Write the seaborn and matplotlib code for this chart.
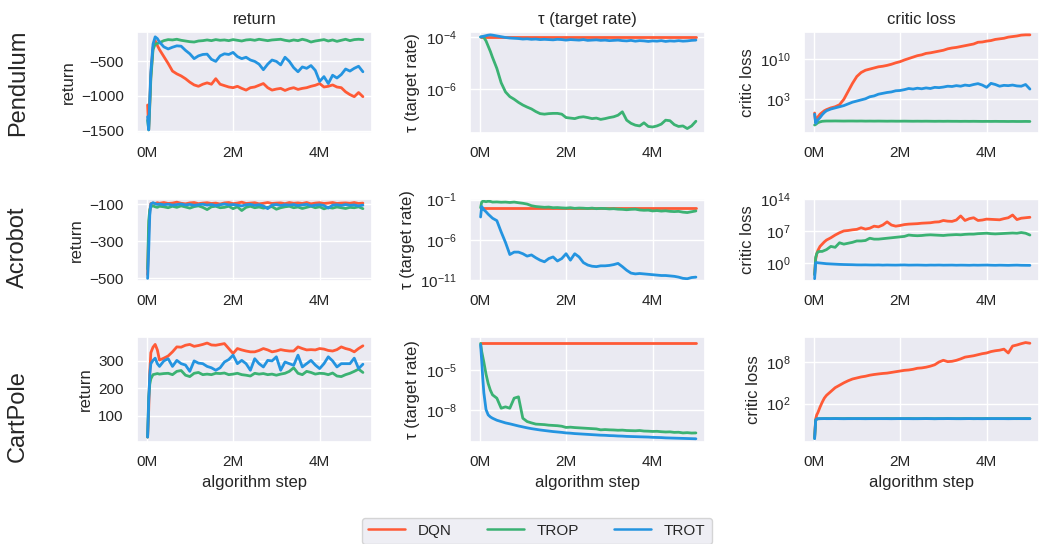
import matplotlib.pyplot as plt
import matplotlib.ticker as mticker
import numpy as np
import pandas as pd
import seaborn as sns

METHODS = ["DQN", "TROP", "TROT"]
COLORS = ["#ff5a36", "#3bb273", "#2494e0"]
ENVS = ["Pendulum", "Acrobot", "CartPole"]
METRICS = ["return", "τ (target rate)", "critic loss"]

# algorithm step in millions
STEP_M = [0.025, 0.05, 0.075, 0.1, 0.15, 0.2, 0.25, 0.3,
          0.4, 0.5, 0.6, 0.7, 0.8, 0.9, 1.0, 1.1, 1.2, 1.3,
          1.4, 1.5, 1.6, 1.7, 1.8, 1.9, 2.0, 2.1, 2.2, 2.3,
          2.4, 2.5, 2.6, 2.7, 2.8, 2.9, 3.0, 3.1, 3.2, 3.3,
          3.4, 3.5, 3.6, 3.7, 3.8, 3.9, 4.0, 4.1, 4.2, 4.3,
          4.4, 4.5, 4.6, 4.7, 4.8, 4.9, 5.0]
FLAT_STEP_M = [0.025, 5.0]

# ---- Pendulum ----
PEND_RET_DQN = [-1130, -1480, -1100, -700, -300, -200, -270, -330,
                -430, -530, -640, -680, -710, -750, -800, -840, -860, -830,
                -810, -830, -750, -830, -850, -870, -880, -860, -890, -915,
                -880, -870, -845, -820, -880, -915, -900, -890, -920, -895,
                -880, -905, -890, -880, -860, -845, -820, -870, -860, -840,
                -870, -880, -940, -980, -1010, -950, -1010]
PEND_RET_TROP = [-1350, -1490, -1150, -750, -330, -250, -240, -230,
                 -200, -185, -190, -180, -195, -205, -215, -220, -205, -200,
                 -190, -200, -185, -195, -190, -200, -185, -195, -205, -190,
                 -185, -195, -180, -190, -200, -190, -185, -180, -195, -205,
                 -190, -200, -180, -195, -220, -205, -195, -185, -205, -190,
                 -210, -195, -180, -200, -185, -180, -185]
PEND_RET_TROT = [-1300, -1490, -1050, -650, -250, -145, -170, -220,
                 -290, -320, -295, -275, -280, -340, -390, -460, -420, -400,
                 -395, -470, -500, -420, -390, -400, -370, -430, -460, -440,
                 -480, -500, -540, -620, -540, -480, -500, -550, -440, -500,
                 -590, -650, -580, -600, -560, -630, -790, -720, -820, -700,
                 -740, -690, -610, -640, -600, -570, -650]

PEND_TAU_DQN_LOG10 = [-4.0, -4.0]
PEND_TAU_TROP_LOG10 = [-4.0, -4.0, -4.0, -4.02, -4.15, -4.35, -4.55, -4.78,
                       -5.2, -5.75, -6.1, -6.28, -6.38, -6.5, -6.6, -6.68, -6.75, -6.85,
                       -6.93, -6.95, -6.93, -6.92, -6.92, -6.95, -7.08, -7.1, -7.12, -7.07,
                       -7.05, -7.08, -7.12, -7.1, -7.15, -7.12, -7.08, -7.05, -6.99, -6.86,
                       -7.18, -7.3, -7.37, -7.4, -7.28, -7.42, -7.44, -7.4, -7.33, -7.18,
                       -7.2, -7.35, -7.42, -7.4, -7.5, -7.4, -7.22]
PEND_TAU_TROT_LOG10 = [-4.0, -3.99, -3.98, -3.97, -3.95, -3.93, -3.92, -3.93,
                       -3.96, -3.99, -4.02, -4.04, -4.05, -4.06, -4.08, -4.07, -4.09, -4.08,
                       -4.1, -4.09, -4.1, -4.11, -4.09, -4.1, -4.12, -4.1, -4.11, -4.12,
                       -4.1, -4.13, -4.12, -4.11, -4.13, -4.12, -4.14, -4.13, -4.12, -4.14,
                       -4.15, -4.13, -4.16, -4.14, -4.15, -4.17, -4.15, -4.16, -4.14, -4.17,
                       -4.15, -4.16, -4.14, -4.16, -4.15, -4.13, -4.12]

PEND_LOSS_DQN_LOG10 = [0.5, -1.1, -0.6, -0.2, 0.3, 0.6, 0.9, 1.1,
                       1.4, 1.6, 1.95, 2.9, 4.3, 5.7, 6.9, 7.6, 8.0, 8.2,
                       8.4, 8.6, 8.7, 8.85, 9.05, 9.3, 9.5, 9.8, 10.05, 10.3,
                       10.55, 10.7, 10.95, 11.05, 11.2, 11.35, 11.5, 11.75, 11.9, 12.0,
                       12.15, 12.3, 12.45, 12.6, 12.9, 12.95, 13.1, 13.2, 13.4, 13.5,
                       13.6, 13.8, 13.9, 14.0, 14.15, 14.2, 14.2]
PEND_LOSS_TROP_LOG10 = [-1.6, -1.5, -1.35, -1.2, -1.05, -0.95, -0.92, -0.9,
                        -0.9, -0.89, -0.9, -0.91, -0.9, -0.9, -0.91, -0.9, -0.92, -0.91,
                        -0.92, -0.91, -0.92, -0.93, -0.92, -0.93, -0.93, -0.92, -0.93, -0.94,
                        -0.93, -0.94, -0.93, -0.94, -0.95, -0.94, -0.95, -0.94, -0.95, -0.95,
                        -0.96, -0.95, -0.96, -0.95, -0.96, -0.97, -0.96, -0.97, -0.96, -0.97,
                        -0.97, -0.98, -0.97, -0.98, -0.98, -0.97, -0.98]
PEND_LOSS_TROT_LOG10 = [0.3, -1.3, -1.0, -0.7, -0.3, 0.2, 0.6, 0.9,
                        1.2, 1.4, 1.6, 1.8, 2.1, 2.4, 2.6, 2.8, 3.0, 3.35,
                        3.5, 3.8, 3.95, 4.1, 4.2, 4.4, 4.45, 4.6, 4.8, 4.7,
                        4.85, 4.75, 4.9, 4.8, 5.0, 4.95, 5.05, 5.2, 5.15, 5.3,
                        5.2, 5.4, 5.3, 5.5, 5.65, 5.4, 5.0, 5.7, 5.5, 5.2,
                        5.35, 5.3, 5.4, 5.25, 5.2, 5.5, 4.7]

# ---- Acrobot ----
ACRO_RET_DQN = [-480, -250, -140, -98, -95, -97, -93, -96,
                -92, -97, -95, -90, -96, -99, -94, -92, -98, -95,
                -93, -97, -95, -100, -94, -92, -98, -95, -90, -97,
                -95, -93, -99, -96, -92, -97, -95, -94, -98, -92,
                -96, -94, -97, -92, -99, -95, -93, -97, -95, -92,
                -97, -95, -94, -96, -92, -97, -95]
ACRO_RET_TROP = [-450, -190, -130, -115, -110, -115, -118, -112,
                 -115, -120, -112, -118, -110, -116, -122, -114, -110, -118,
                 -130, -115, -112, -120, -118, -112, -125, -115, -135, -118,
                 -112, -120, -116, -122, -118, -114, -128, -120, -115, -112,
                 -120, -116, -124, -118, -112, -120, -115, -126, -118, -122,
                 -116, -120, -124, -118, -120, -115, -125]
ACRO_RET_TROT = [-500, -350, -160, -100, -93, -98, -102, -100,
                 -104, -101, -106, -103, -100, -105, -102, -107, -104, -101,
                 -106, -103, -108, -104, -100, -105, -103, -106, -110, -104,
                 -102, -107, -104, -110, -125, -105, -103, -108, -104, -106,
                 -103, -108, -105, -102, -110, -106, -104, -108, -122, -106,
                 -104, -108, -103, -107, -105, -110, -106]

ACRO_TAU_DQN_LOG10 = [-2.0, -2.0]
ACRO_TAU_TROP_LOG10 = [-2.0, -1.3, -1.2, -1.2, -1.25, -1.2, -1.22, -1.3,
                       -1.28, -1.32, -1.3, -1.35, -1.3, -1.38, -1.45, -1.55, -1.75, -1.85,
                       -1.9, -1.95, -1.92, -2.0, -1.98, -2.02, -2.05, -2.0, -2.08, -2.04,
                       -2.06, -2.1, -2.05, -2.12, -2.08, -2.1, -2.15, -2.12, -2.18, -2.2,
                       -2.25, -2.2, -2.18, -2.28, -2.32, -2.3, -2.4, -2.35, -2.42, -2.38,
                       -2.45, -2.48, -2.45, -2.55, -2.6, -2.5, -2.4]
ACRO_TAU_TROT_LOG10 = [-3.15, -1.85, -2.05, -2.25, -2.5, -2.8, -3.05, -3.3,
                       -3.6, -5.0, -6.3, -7.8, -7.5, -7.5, -7.7, -8.0, -7.85, -8.2,
                       -8.5, -8.7, -8.3, -8.1, -8.6, -8.3, -7.7, -8.5, -7.7, -8.1,
                       -8.8, -9.1, -9.25, -9.3, -9.2, -9.2, -9.15, -9.05, -8.9, -9.3,
                       -9.75, -10.1, -10.2, -10.15, -10.2, -10.25, -10.3, -10.35, -10.4, -10.4,
                       -10.45, -10.5, -10.6, -10.75, -10.8, -10.65, -10.6]

ACRO_LOSS_DQN_LOG10 = [-2.6, 0.8, 2.0, 2.7, 3.6, 4.1, 4.6, 5.0,
                       5.5, 6.1, 6.6, 7.0, 7.1, 7.25, 7.35, 7.7, 7.4, 7.6,
                       8.05, 7.9, 8.3, 9.0, 8.3, 8.05, 8.2, 8.4, 8.5, 8.55,
                       8.6, 8.7, 8.75, 8.8, 8.95, 9.0, 9.3, 9.15, 9.1, 9.4,
                       10.3, 9.3, 9.7, 9.9, 9.3, 9.4, 9.6, 9.55, 9.5, 9.45,
                       9.7, 9.9, 10.5, 9.5, 9.8, 9.9, 10.0]
ACRO_LOSS_TROP_LOG10 = [-2.6, 1.2, 2.0, 2.4, 2.5, 2.5, 2.7, 2.9,
                        3.6, 3.4, 4.4, 4.1, 4.3, 4.5, 4.8, 4.8, 4.9, 5.4,
                        5.2, 5.2, 5.3, 5.4, 5.5, 5.6, 5.7, 5.8, 6.1, 6.0,
                        5.95, 6.0, 6.1, 6.15, 6.1, 6.05, 6.0, 6.1, 6.15, 6.2,
                        6.15, 6.25, 6.3, 6.3, 6.4, 6.45, 6.5, 6.4, 6.35, 6.4,
                        6.45, 6.5, 6.55, 6.5, 6.65, 6.5, 6.1]
ACRO_LOSS_TROT_LOG10 = [-3.5, 0.0, 0.05, 0.0, -0.05, -0.1, -0.15, -0.2,
                        -0.25, -0.3, -0.35, -0.38, -0.4, -0.42, -0.45, -0.46, -0.45, -0.47,
                        -0.48, -0.46, -0.5, -0.47, -0.49, -0.5, -0.48, -0.46, -0.5, -0.49,
                        -0.48, -0.5, -0.52, -0.49, -0.5, -0.48, -0.51, -0.5, -0.49, -0.52,
                        -0.5, -0.51, -0.53, -0.5, -0.52, -0.5, -0.49, -0.52, -0.54, -0.51,
                        -0.53, -0.55, -0.52, -0.5, -0.54, -0.55, -0.56]

# ---- CartPole ----
CART_RET_DQN = [23, 120, 260, 330, 350, 360, 340, 303,
                310, 318, 333, 351, 350, 357, 360, 353, 356, 360,
                365, 358, 357, 360, 363, 345, 327, 345, 340, 336,
                333, 333, 338, 345, 340, 333, 336, 341, 338, 336,
                336, 351, 345, 340, 341, 340, 345, 343, 338, 336,
                341, 351, 345, 341, 333, 345, 355]
CART_RET_TROP = [23, 169, 215, 235, 250, 252, 254, 252,
                 254, 255, 250, 262, 265, 248, 243, 255, 258, 250,
                 252, 250, 255, 254, 256, 250, 252, 255, 250, 248,
                 245, 255, 252, 254, 250, 252, 248, 252, 255, 262,
                 275, 255, 250, 262, 258, 252, 255, 254, 250, 256,
                 245, 243, 250, 255, 262, 270, 258]
CART_RET_TROT = [23, 150, 250, 290, 302, 310, 290, 280,
                 300, 308, 280, 302, 290, 285, 262, 300, 292, 290,
                 280, 275, 266, 275, 296, 305, 321, 290, 302, 290,
                 266, 308, 290, 278, 302, 300, 315, 266, 296, 290,
                 284, 321, 278, 290, 302, 285, 272, 290, 315, 300,
                 278, 290, 290, 290, 310, 272, 288]

CART_TAU_DQN_LOG10 = [-3.0, -3.0]
CART_TAU_TROP_LOG10 = [-3.0, -3.6, -4.0, -4.4, -5.3, -6.0, -6.5, -6.85,
                       -7.1, -7.85, -7.75, -7.85, -7.1, -7.0, -8.6, -8.85, -8.95, -9.04,
                       -9.06, -9.08, -9.12, -9.14, -9.16, -9.2, -9.29, -9.27, -9.3, -9.32,
                       -9.34, -9.36, -9.38, -9.4, -9.47, -9.45, -9.47, -9.48, -9.5, -9.49,
                       -9.52, -9.53, -9.54, -9.52, -9.56, -9.57, -9.59, -9.58, -9.61, -9.63,
                       -9.62, -9.66, -9.65, -9.7, -9.68, -9.71, -9.7]
CART_TAU_TROT_LOG10 = [-3.1, -4.3, -5.6, -6.7, -7.95, -8.35, -8.5, -8.6,
                       -8.75, -8.85, -8.95, -9.02, -9.1, -9.18, -9.25, -9.32, -9.38, -9.43,
                       -9.48, -9.52, -9.56, -9.6, -9.63, -9.66, -9.7, -9.72, -9.75, -9.77,
                       -9.79, -9.81, -9.83, -9.85, -9.87, -9.88, -9.9, -9.91, -9.93, -9.94,
                       -9.96, -9.97, -9.98, -9.99, -10.0, -10.01, -10.03, -10.04, -10.05, -10.07,
                       -10.08, -10.09, -10.1, -10.11, -10.12, -10.13, -10.14]

CART_LOSS_DQN_LOG10 = [-2.8, -0.2, 0.4, 0.7, 1.5, 2.2, 2.8, 3.2,
                       3.75, 4.3, 4.65, 5.0, 5.3, 5.55, 5.7, 5.85, 5.95, 6.1,
                       6.2, 6.28, 6.35, 6.4, 6.5, 6.6, 6.7, 6.8, 6.85, 6.95,
                       7.1, 7.15, 7.25, 7.4, 7.6, 8.0, 8.25, 8.05, 8.1, 8.24,
                       8.45, 8.7, 8.8, 8.9, 9.05, 9.2, 9.3, 9.5, 9.62, 9.7,
                       9.85, 9.3, 10.3, 10.45, 10.64, 10.8, 10.7]
CART_LOSS_TROP_LOG10 = [-3.0, -0.35, -0.22, -0.18, -0.16, -0.15, -0.15, -0.14,
                        -0.15, -0.14, -0.15, -0.15, -0.14, -0.15, -0.16, -0.15, -0.14, -0.15,
                        -0.15, -0.16, -0.15, -0.14, -0.15, -0.15, -0.16, -0.15, -0.14, -0.15,
                        -0.16, -0.15, -0.14, -0.15, -0.16, -0.15, -0.15, -0.14, -0.15, -0.16,
                        -0.15, -0.14, -0.15, -0.16, -0.15, -0.15, -0.14, -0.15, -0.16, -0.15,
                        -0.15, -0.14, -0.15, -0.16, -0.15, -0.14, -0.15]
CART_LOSS_TROT_LOG10 = [-3.04, -0.4, -0.2, -0.17, -0.16, -0.16, -0.15, -0.16,
                        -0.16, -0.15, -0.16, -0.17, -0.16, -0.16, -0.15, -0.16, -0.17, -0.16,
                        -0.16, -0.15, -0.16, -0.16, -0.17, -0.16, -0.15, -0.16, -0.16, -0.17,
                        -0.16, -0.16, -0.15, -0.16, -0.17, -0.16, -0.16, -0.15, -0.16, -0.16,
                        -0.17, -0.16, -0.15, -0.16, -0.16, -0.17, -0.16, -0.16, -0.15, -0.16,
                        -0.16, -0.17, -0.16, -0.15, -0.16, -0.16, -0.16]


def curves(dqn, trop, trot, log=False, flat_dqn=False):
    # long-form table of one panel
    parts = []
    for name, vals in zip(METHODS, [dqn, trop, trot]):
        steps = FLAT_STEP_M if (flat_dqn and name == "DQN") else STEP_M
        v = np.array(vals, dtype=float)
        if log:
            v = 10.0 ** v
        parts.append(pd.DataFrame({"step": np.array(steps) * 1e6, "value": v, "method": name}))
    return pd.concat(parts, ignore_index=True)


PANELS = [
    [curves(PEND_RET_DQN, PEND_RET_TROP, PEND_RET_TROT),
     curves(PEND_TAU_DQN_LOG10, PEND_TAU_TROP_LOG10, PEND_TAU_TROT_LOG10, log=True, flat_dqn=True),
     curves(PEND_LOSS_DQN_LOG10, PEND_LOSS_TROP_LOG10, PEND_LOSS_TROT_LOG10, log=True)],
    [curves(ACRO_RET_DQN, ACRO_RET_TROP, ACRO_RET_TROT),
     curves(ACRO_TAU_DQN_LOG10, ACRO_TAU_TROP_LOG10, ACRO_TAU_TROT_LOG10, log=True, flat_dqn=True),
     curves(ACRO_LOSS_DQN_LOG10, ACRO_LOSS_TROP_LOG10, ACRO_LOSS_TROT_LOG10, log=True)],
    [curves(CART_RET_DQN, CART_RET_TROP, CART_RET_TROT),
     curves(CART_TAU_DQN_LOG10, CART_TAU_TROP_LOG10, CART_TAU_TROT_LOG10, log=True, flat_dqn=True),
     curves(CART_LOSS_DQN_LOG10, CART_LOSS_TROP_LOG10, CART_LOSS_TROT_LOG10, log=True)],
]

YTICKS = [[[-1500, -1000, -500], [1e-6, 1e-4], [1e3, 1e10]],
          [[-500, -300, -100], [1e-11, 1e-6, 1e-1], [1e0, 1e7, 1e14]],
          [[100, 200, 300], [1e-8, 1e-5], [1e2, 1e8]]]
YLIMS = [[(-1535, -75), (10 ** -7.67, 10 ** -3.81), (10 ** -3.0, 10 ** 14.7)],
         [(-514, -73), (10 ** -11.08, 10 ** -0.92), (10 ** -4.0, 10 ** 14.02)],
         [(5, 387), (10 ** -10.38, 10 ** -2.52), (10 ** -3.52, 10 ** 11.6)]]

sns.set_theme(style="darkgrid", context="notebook")
plt.rcParams["font.family"] = ["Liberation Sans", "DejaVu Sans"]

W, H = 1040, 544
fig = plt.figure(figsize=(W / 100, H / 100), dpi=100)

col_x = [137, 470, 804]
col_w = 235
row_tb = [(32, 133), (199, 281), (337, 442)]
row_label_y = [83, 247, 416]

for r in range(3):
    top, bottom = row_tb[r]
    for c in range(3):
        ax = fig.add_axes([col_x[c] / W, 1 - bottom / H, col_w / W, (bottom - top) / H])
        sns.lineplot(data=PANELS[r][c], x="step", y="value", hue="method",
                     hue_order=METHODS, palette=COLORS, estimator=None,
                     linewidth=2.0, legend=False, ax=ax)
        if c > 0:
            ax.set_yscale("log")
            ax.yaxis.set_minor_locator(mticker.NullLocator())
        ax.set_yticks(YTICKS[r][c])
        ax.set_ylim(*YLIMS[r][c])
        ax.set_xlim(-0.22e6, 5.21e6)
        ax.set_xticks([0, 2e6, 4e6])
        ax.xaxis.set_major_formatter(mticker.FuncFormatter(lambda v, p: f"{v / 1e6:.0f}M"))
        ax.set_ylabel(METRICS[c])
        ax.set_xlabel("algorithm step" if r == 2 else "")
        if r == 0:
            ax.set_title(METRICS[c], fontsize=12)
    fig.text(18 / W, 1 - row_label_y[r] / H, ENVS[r], rotation=90,
             ha="center", va="center", fontsize=17)

handles = [plt.Line2D([], [], color=col, lw=1.8) for col in COLORS]
fig.legend(handles, METHODS, loc="upper center", bbox_to_anchor=(537 / W, 1 - 510 / H),
           ncol=3, fontsize=11, handlelength=2.4, handletextpad=0.85, columnspacing=2.3)

fig.savefig("out.png", dpi=100)
